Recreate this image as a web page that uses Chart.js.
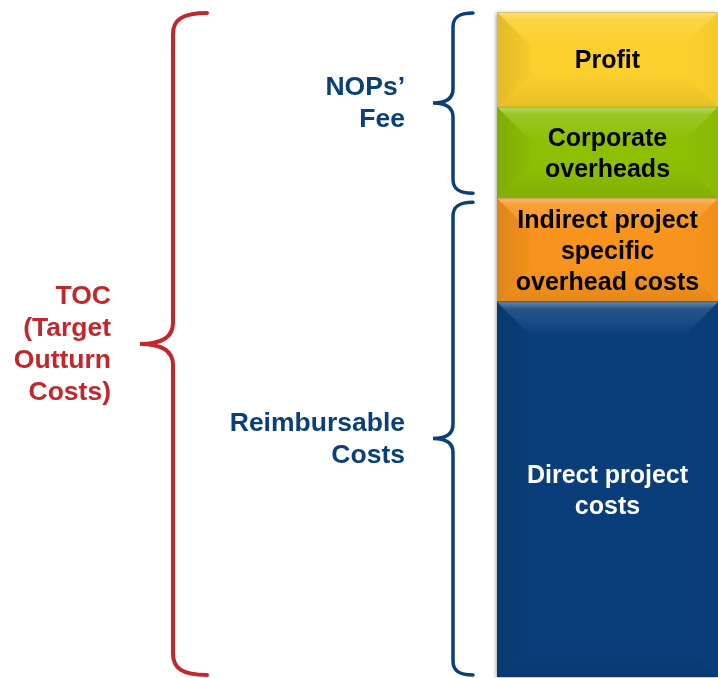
<!DOCTYPE html>
<html>
<head>
<meta charset="utf-8">
<script src="https://cdn.jsdelivr.net/npm/chart.js@4.4.0/dist/chart.umd.min.js"></script>
<style>
  html, body { margin: 0; padding: 0; background: #fff; }
  #wrap { width: 718px; height: 678px; position: relative; }
</style>
</head>
<body>
<div id="wrap"><canvas id="tocChart"></canvas></div>
<script>
// stacked from the bottom up
const categories = ['TOC'];
const segmentNames = ['Direct project costs', 'Indirect project specific overhead costs', 'Corporate overheads', 'Profit'];
const segmentValues = [56.4, 15.6, 13.7, 14.3];
const segmentLines = [
  ['Direct project', 'costs'],
  ['Indirect project', 'specific', 'overhead costs'],
  ['Corporate', 'overheads'],
  ['Profit']
];
const segmentColors = ['#0a3e7b', '#f7941d', '#8dbf05', '#fbcf2c'];
const segmentTextColors = ['#ffffff', '#000000', '#000000', '#000000'];

// braces: which stacked segments they cover (from index, to index)
const braceLabels = [
  { lines: ['TOC', '(Target', 'Outturn', 'Costs)'], from: 0, to: 3, color: '#c0282e' },
  { lines: ['NOPs\u2019', 'Fee'], from: 2, to: 3, color: '#0b3f7a' },
  { lines: ['Reimbursable', 'Costs'], from: 0, to: 1, color: '#0b3f7a' }
];

const FONT = 'bold 25px "Liberation Sans", Arial, sans-serif';
const SIDE_FONT = 'bold 26.5px "Liberation Sans", Arial, sans-serif';

function drawBrace(ctx, xLine, xTip, xEnd, y1, y2, r, lw, color) {
  const ym = (y1 + y2) / 2;
  ctx.save();
  ctx.strokeStyle = color;
  ctx.lineWidth = lw;
  ctx.lineCap = 'round';
  ctx.beginPath();
  ctx.moveTo(xEnd, y1);
  ctx.bezierCurveTo(xLine + (xEnd - xLine) * 0.25, y1, xLine, y1 + r * 0.35, xLine, y1 + r);
  ctx.lineTo(xLine, ym - r);
  ctx.quadraticCurveTo(xLine, ym, xTip, ym);
  ctx.quadraticCurveTo(xLine, ym, xLine, ym + r);
  ctx.lineTo(xLine, y2 - r);
  ctx.bezierCurveTo(xLine, y2 - r * 0.35, xLine + (xEnd - xLine) * 0.25, y2, xEnd, y2);
  ctx.stroke();
  ctx.restore();
}

const bevelPlugin = {
  id: 'bevel',
  beforeDatasetsDraw(chart) {
    const ctx = chart.ctx;
    const a = chart.chartArea;
    ctx.save();
    ctx.shadowColor = 'rgba(0,0,0,0.35)';
    ctx.shadowBlur = 4;
    ctx.shadowOffsetX = -1;
    ctx.shadowOffsetY = 1;
    ctx.fillStyle = '#fff';
    ctx.fillRect(a.left, a.top, a.right - a.left, a.bottom - a.top);
    ctx.restore();
  },
  afterDatasetsDraw(chart) {
    const ctx = chart.ctx;
    chart.data.datasets.forEach((ds, i) => {
      const bar = chart.getDatasetMeta(i).data[0];
      const l = bar.x - bar.width / 2, r = bar.x + bar.width / 2;
      const t = Math.min(bar.y, bar.base), b = Math.max(bar.y, bar.base);
      const bv = Math.min(34, (b - t) / 2.5);
      ctx.save();
      // top light band
      let g = ctx.createLinearGradient(0, t, 0, t + bv);
      g.addColorStop(0, 'rgba(255,255,255,0.38)');
      g.addColorStop(0.2, 'rgba(255,255,255,0.12)');
      g.addColorStop(1, 'rgba(255,255,255,0.0)');
      ctx.fillStyle = g;
      ctx.beginPath();
      ctx.moveTo(l, t); ctx.lineTo(r, t); ctx.lineTo(r - bv, t + bv); ctx.lineTo(l + bv, t + bv);
      ctx.closePath(); ctx.fill();
      // left darker band
      g = ctx.createLinearGradient(l, 0, l + bv, 0);
      g.addColorStop(0, 'rgba(0,0,0,0.10)');
      g.addColorStop(1, 'rgba(0,0,0,0.02)');
      ctx.fillStyle = g;
      ctx.beginPath();
      ctx.moveTo(l, t); ctx.lineTo(l + bv, t + bv); ctx.lineTo(l + bv, b - bv); ctx.lineTo(l, b);
      ctx.closePath(); ctx.fill();
      // right band
      g = ctx.createLinearGradient(r, 0, r - bv, 0);
      g.addColorStop(0, 'rgba(0,0,0,0.03)');
      g.addColorStop(1, 'rgba(0,0,0,0.0)');
      ctx.fillStyle = g;
      ctx.beginPath();
      ctx.moveTo(r, t); ctx.lineTo(r - bv, t + bv); ctx.lineTo(r - bv, b - bv); ctx.lineTo(r, b);
      ctx.closePath(); ctx.fill();
      // bottom darker band
      g = ctx.createLinearGradient(0, b - bv, 0, b);
      g.addColorStop(0, 'rgba(0,0,0,0.0)');
      g.addColorStop(1, 'rgba(0,0,0,0.08)');
      ctx.fillStyle = g;
      ctx.beginPath();
      ctx.moveTo(l, b); ctx.lineTo(r, b); ctx.lineTo(r - bv, b - bv); ctx.lineTo(l + bv, b - bv);
      ctx.closePath(); ctx.fill();
      // thin seam at top
      ctx.fillStyle = 'rgba(0,0,0,0.12)';
      ctx.fillRect(l, t, r - l, 1);

      // segment text
      ctx.font = FONT;
      ctx.fillStyle = segmentTextColors[i];
      ctx.textAlign = 'center';
      ctx.textBaseline = 'middle';
      const lines = segmentLines[i];
      const lh = 31;
      const cy = (t + b) / 2 - (lines.length - 1) * lh / 2 + 2;
      lines.forEach((ln, k) => ctx.fillText(ln, bar.x, cy + k * lh));
      ctx.restore();
    });
  },
  afterDraw(chart) {
    const ctx = chart.ctx;
    const y = chart.scales.y;
    const cum = [0];
    segmentValues.forEach(v => cum.push(cum[cum.length - 1] + v));
    braceLabels.forEach((bl, n) => {
      let y1 = y.getPixelForValue(cum[bl.to + 1]) + 1;
      let y2 = y.getPixelForValue(cum[bl.from]) - 2;
      let textX;
      if (n === 0) {
        drawBrace(ctx, 173, 140, 207, y1, y2, 21, 4, bl.color);
        textX = 111;
      } else {
        if (n === 1) y2 -= 3; else y1 += 3;
        drawBrace(ctx, 453, 433, 473, y1, y2, 14, 3.5, bl.color);
        textX = 405;
      }
      const ym = (y1 + y2) / 2;
      ctx.save();
      ctx.font = SIDE_FONT;
      ctx.fillStyle = bl.color;
      ctx.textAlign = 'right';
      ctx.textBaseline = 'middle';
      const lh = 32;
      const start = ym - (bl.lines.length - 1) * lh / 2 + 1;
      bl.lines.forEach((ln, k) => ctx.fillText(ln, textX, start + k * lh));
      ctx.restore();
    });
  }
};

new Chart(document.getElementById('tocChart'), {
  type: 'bar',
  data: {
    labels: categories,
    datasets: segmentNames.map((name, i) => ({
      label: name,
      data: [segmentValues[i]],
      backgroundColor: segmentColors[i],
      borderWidth: 0,
      barPercentage: 1,
      categoryPercentage: 1
    }))
  },
  options: {
    responsive: true,
    maintainAspectRatio: false,
    animation: false,
    layout: { padding: { left: 497, top: 12, right: 0, bottom: 1 } },
    plugins: { legend: { display: false }, tooltip: { enabled: false } },
    scales: {
      x: { stacked: true, display: false },
      y: { stacked: true, display: false, min: 0, max: 100 }
    }
  },
  plugins: [bevelPlugin]
});
</script>
</body>
</html>
